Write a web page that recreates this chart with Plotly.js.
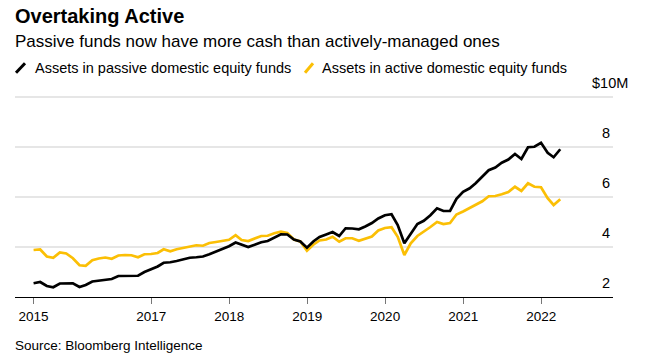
<!DOCTYPE html>
<html><head><meta charset="utf-8">
<script src="https://cdn.plot.ly/plotly-3.0.1.min.js"></script>
<style>html,body{margin:0;padding:0;background:#fff}#chart{width:656px;height:361px}</style>
</head><body><div id="chart"></div>
<script>
// Month-end observations, June 2015 .. March 2022
const firstYear = 2015, firstMonth = 6, monthCount = 82;
const dates = [];
for (let i = 0; i < monthCount; i++) {
  const m0 = firstMonth - 1 + i;
  const y = firstYear + Math.floor(m0 / 12), m = (m0 % 12) + 1;
  const last = new Date(Date.UTC(y, m, 0)).getUTCDate();
  dates.push(y + '-' + String(m).padStart(2, '0') + '-' + String(last).padStart(2, '0'));
}

const passive = [
  2.55, 2.60, 2.44, 2.39, 2.54, 2.55, 2.55,
  2.40, 2.48, 2.62, 2.65, 2.70, 2.72, 2.84, 2.85, 2.85, 2.85, 3.00, 3.10,
  3.22, 3.37, 3.39, 3.44, 3.50, 3.57, 3.59, 3.62, 3.71, 3.82, 3.93, 4.03,
  4.18, 4.09, 4.00, 4.09, 4.19, 4.24, 4.36, 4.51, 4.50, 4.30, 4.22, 3.97,
  4.23, 4.40, 4.50, 4.60, 4.44, 4.75, 4.74, 4.71, 4.82, 4.96, 5.14, 5.27,
  5.31, 4.88, 4.15, 4.55, 4.92, 5.05, 5.27, 5.55, 5.44, 5.44, 5.93, 6.21,
  6.35, 6.55, 6.80, 7.07, 7.18, 7.37, 7.50, 7.72, 7.52, 7.99, 8.01, 8.17,
  7.77, 7.59, 7.91
];
const active = [
  3.88, 3.90, 3.62, 3.57, 3.78, 3.74, 3.55,
  3.27, 3.25, 3.47, 3.54, 3.58, 3.53, 3.66, 3.68, 3.67, 3.59, 3.71, 3.72,
  3.76, 3.91, 3.83, 3.91, 3.96, 4.03, 4.07, 4.05, 4.16, 4.20, 4.24, 4.29,
  4.47, 4.28, 4.24, 4.33, 4.44, 4.45, 4.55, 4.61, 4.56, 4.30, 4.22, 3.85,
  4.10, 4.26, 4.30, 4.41, 4.21, 4.35, 4.35, 4.25, 4.32, 4.42, 4.66, 4.76,
  4.79, 4.41, 3.68, 4.15, 4.44, 4.60, 4.80, 5.00, 4.92, 4.96, 5.30, 5.42,
  5.55, 5.68, 5.83, 6.03, 6.04, 6.11, 6.20, 6.41, 6.24, 6.55, 6.41, 6.39,
  5.95, 5.68, 5.91
];

const seriesNames = ['Assets in passive domestic equity funds', 'Assets in active domestic equity funds'];
const xTickVals = ['2015-06-30', '2017-01-01', '2018-01-01', '2019-01-01', '2020-01-01', '2021-01-01', '2022-01-01'];
const xTickText = ['2015', '2017', '2018', '2019', '2020', '2021', '2022'];
const yTickVals = [2, 4, 6, 8, 10];
const yTickText = ['2', '4', '6', '8', ''];
const yTopLabel = '$10M';

const BLACK = '#000000', YELLOW = '#fbbf05';
const FONT = '"Liberation Sans", Arial, Helvetica, sans-serif';

const traces = [
  {x: dates, y: active, type: 'scatter', mode: 'lines', name: seriesNames[1],
   line: {color: YELLOW, width: 2.7, shape: 'linear'}, showlegend: false, hoverinfo: 'skip'},
  {x: dates, y: passive, type: 'scatter', mode: 'lines', name: seriesNames[0],
   line: {color: BLACK, width: 2.7, shape: 'linear'}, showlegend: false, hoverinfo: 'skip'}
];

function ann(text, x, y, size, opts) {
  return Object.assign({text: text, xref: 'paper', yref: 'paper', x: x, y: y,
    xanchor: 'left', yanchor: 'middle', showarrow: false, xshift: -2,
    font: {family: FONT, size: size, color: '#000'}}, opts || {});
}

// plot area: y=2 at 297px, y=10 at 97px (25 px per unit); range top extended so the 10 gridline shows
const PH = 205; // plot height in px
const py = p => (297 - p) / PH; // pixel row -> paper y
const px = p => (p - 15) / 598;  // pixel column -> paper x

const layout = {
  width: 656, height: 361,
  margin: {l: 15, r: 43, t: 92, b: 64, pad: 0},
  paper_bgcolor: '#fff', plot_bgcolor: '#fff',
  font: {family: FONT, color: '#000'},
  xaxis: {
    type: 'date', range: ['2015-04-04', '2022-12-03'],
    tickmode: 'array', tickvals: xTickVals, ticktext: xTickText,
    showgrid: false, zeroline: false,
    showline: true, linecolor: '#000', linewidth: 1.3,
    ticks: 'outside', ticklen: 6, tickwidth: 1, tickcolor: '#777',
    tickfont: {family: FONT, size: 13.5, color: '#000'}
  },
  yaxis: {
    range: [2, 10.2], side: 'right',
    tickmode: 'array', tickvals: yTickVals, ticktext: yTickText,
    showgrid: true, gridcolor: '#e6e6e6', gridwidth: 2,
    zeroline: false, showline: false, ticks: '',
    ticklabelposition: 'inside', ticklabelshift: -14, ticklabelstandoff: 0,
    tickfont: {family: FONT, size: 14.5, color: '#000'}
  },
  shapes: [
    {type: 'line', xref: 'paper', yref: 'paper', x0: px(16), y0: py(72.7), x1: px(25), y1: py(63.3),
     line: {color: BLACK, width: 3}},
    {type: 'line', xref: 'paper', yref: 'paper', x0: px(305), y0: py(72.7), x1: px(313), y1: py(63.3),
     line: {color: YELLOW, width: 3}}
  ],
  annotations: [
    ann('<b>Overtaking Active</b>', 0, py(16.5), 20),
    ann('Passive funds now have more cash than actively-managed ones', 0, py(41.7), 17),
    ann(seriesNames[0], px(35), py(68), 14.5),
    ann(seriesNames[1], px(322), py(68), 14.5),
    ann('Source: Bloomberg Intelligence', 0, py(345.8), 13.5),
    {text: yTopLabel, xref: 'paper', yref: 'y', x: px(592), y: 10, yshift: 14,
     xanchor: 'left', yanchor: 'middle', showarrow: false, xshift: -2,
     font: {family: FONT, size: 14.5, color: '#000'}}
  ]
};

Plotly.newPlot('chart', traces, layout, {staticPlot: true, displayModeBar: false});
</script>
</body></html>
